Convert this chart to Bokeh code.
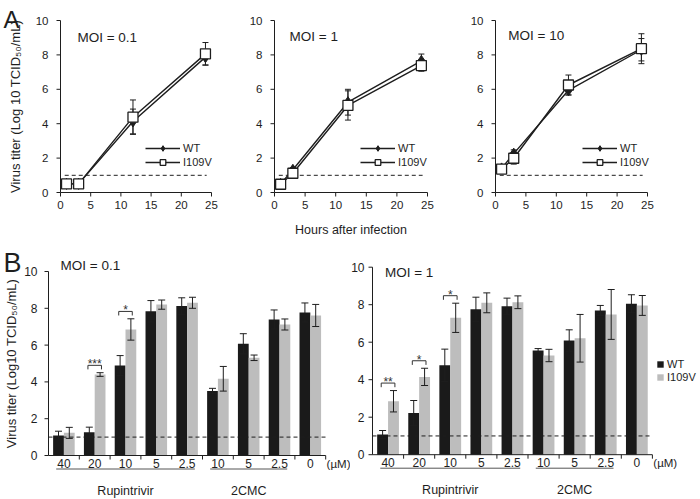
import numpy as np
from bokeh.plotting import figure
from bokeh.models import (Range1d, ColumnDataSource, Whisker, TeeHead, Legend,
                          LegendItem)
from bokeh.layouts import column, row
from bokeh.embed import file_html
from bokeh.resources import INLINE
from bokeh.core.properties import value

FONT = "Liberation Sans"
INK = "#1e1e1e"
WT_COLOR = "#1a1a1a"
IV_COLOR = "#bdbdbd"

# ---------------- data: panel A (growth curves) ----------------
hours = [1, 3, 12, 24]
series_names = ["WT", "I109V"]
a_moi_labels = ["MOI = 0.1", "MOI = 1", "MOI = 10"]
a_wt_01 = [0.5, 0.5, 4.13, 7.87]
a_wt_01_err = [0.05, 0.05, 0.72, 0.45]
a_iv_01 = [0.5, 0.5, 4.38, 8.06]
a_iv_01_err = [0.05, 0.05, 1.0, 0.66]
a_wt_1 = [0.5, 1.32, 5.25, 7.65]
a_wt_1_err = [0.05, 0.12, 0.75, 0.4]
a_iv_1 = [0.48, 1.12, 5.06, 7.38]
a_iv_1_err = [0.05, 0.1, 0.85, 0.33]
a_wt_10 = [1.4, 2.26, 5.94, 8.3]
a_wt_10_err = [0.2, 0.22, 0.27, 0.65]
a_iv_10 = [1.36, 1.99, 6.25, 8.36]
a_iv_10_err = [0.22, 0.34, 0.58, 0.87]
a_xticks = [0, 5, 10, 15, 20, 25]
a_yticks = [0, 2, 4, 6, 8, 10]
a_xlabel = "Hours after infection"
detection_limit = 1.0

# ---------------- data: panel B (drug sensitivity) ----------------
b_concentrations = ["40", "20", "10", "5", "2.5", "10", "5", "2.5", "0"]
b_unit = "(µM)"
b_groups = ["Rupintrivir", "2CMC"]
b_group_first = [0, 5]
b_group_last = [4, 7]
b_moi_labels = ["MOI = 0.1", "MOI = 1"]
b_wt_01 = [1.09, 1.27, 4.89, 7.84, 8.12, 3.5, 6.07, 7.39, 7.77]
b_wt_01_err = [0.23, 0.27, 0.54, 0.58, 0.45, 0.15, 0.55, 0.52, 0.52]
b_iv_01 = [1.23, 4.40, 6.85, 8.2, 8.3, 4.17, 5.31, 7.12, 7.61]
b_iv_01_err = [0.3, 0.1, 0.58, 0.25, 0.3, 0.67, 0.15, 0.3, 0.6]
b_wt_1 = [1.08, 2.23, 4.77, 7.76, 7.92, 5.56, 6.09, 7.69, 8.05]
b_wt_1_err = [0.21, 0.66, 0.86, 0.64, 0.43, 0.1, 0.57, 0.27, 0.48]
b_iv_1 = [2.85, 4.15, 7.3, 8.1, 8.13, 5.29, 6.21, 7.48, 7.96]
b_iv_1_err = [0.57, 0.46, 0.78, 0.53, 0.34, 0.33, 1.27, 1.33, 0.53]
b_sig_01_idx = [1, 2]
b_sig_01_txt = ["***", "*"]
b_sig_1_idx = [0, 1, 2]
b_sig_1_txt = ["**", "*", "*"]
b_yticks = [0, 2, 4, 6, 8, 10]

YLABEL_A = "Virus titer (Log 10 TCID\u2085\u2080/mL)"
YLABEL_B = "Virus titer (Log10 TCID\u2085\u2080/mL)"


def bare_figure(w, h, xr, yr):
    p = figure(frame_width=w, frame_height=h,
               min_border_left=0, min_border_right=0,
               min_border_top=0, min_border_bottom=0,
               x_range=Range1d(*xr), y_range=Range1d(*yr),
               x_axis_location=None, y_axis_location=None,
               output_backend="svg", toolbar_location=None)
    p.outline_line_color = None
    p.grid.visible = False
    return p


def err_source(x, v, e):
    return ColumnDataSource(dict(
        x=list(x), y=list(v),
        upper=[a + b for a, b in zip(v, e)],
        lower=[a - b for a, b in zip(v, e)]))


def whisker(src, level, cap):
    return Whisker(source=src, base="x", upper="upper", lower="lower",
                   level=level, line_color=INK, line_width=1,
                   upper_head=TeeHead(size=cap, line_color=INK, line_width=1),
                   lower_head=TeeHead(size=cap, line_color=INK, line_width=1))


def manual_yaxis(p, ticks, ppu_x, tick_px, gap_px, font):
    """y axis drawn at x = 0 with the figure's own scales."""
    t = np.array(ticks, dtype=float)
    p.segment(x0=[0], y0=[t.min()], x1=[0], y1=[t.max()],
              line_color=INK, line_width=1)
    p.segment(x0=np.zeros(len(t)), y0=t, x1=np.full(len(t), -tick_px / ppu_x),
              y1=t, line_color=INK, line_width=1)
    p.text(x=np.full(len(t), -(tick_px + gap_px) / ppu_x), y=t,
           text=[f"{v:g}" for v in ticks], text_font=value(FONT),
           text_font_size=font, text_align="right", text_baseline="middle",
           text_color=INK)


def manual_xaxis(p, ticks, ppu_y, tick_px, label_px, font):
    """x axis drawn at y = 0 with the figure's own scales."""
    t = np.array(ticks, dtype=float)
    p.segment(x0=[t.min()], y0=[0], x1=[t.max()], y1=[0],
              line_color=INK, line_width=1)
    p.segment(x0=t, y0=np.zeros(len(t)), x1=t,
              y1=np.full(len(t), -tick_px / ppu_y), line_color=INK, line_width=1)
    p.text(x=t, y=np.full(len(t), -label_px / ppu_y),
           text=[f"{v:g}" for v in ticks], text_font=value(FONT),
           text_font_size=font, text_align="center", text_baseline="middle",
           text_color=INK)


A_PPU_Y = 17.2
A_ZERO = 192      # page y of value 0 in row A
A_H = 240         # canvas height of row A (page y 0..240)


def panel_a(wt, wt_e, iv, iv_e, moi, canvas_w, axis_px, ppu_x, moi_xy, leg_xy,
            xlabel=None, letter=None, ylabel=None):
    xr = (-axis_px / ppu_x, (canvas_w - axis_px) / ppu_x)
    yr = (-(A_H - A_ZERO) / A_PPU_Y, A_ZERO / A_PPU_Y)
    p = bare_figure(canvas_w, A_H, xr, yr)
    manual_yaxis(p, a_yticks, ppu_x, 4, 8, "11.5px")
    manual_xaxis(p, a_xticks, A_PPU_Y, 4, 12, "11.5px")
    if xlabel:
        p.text(x=[12.5], y=[-37 / A_PPU_Y], text=[xlabel],
               text_font=value(FONT), text_font_size="12.5px",
               text_align="center", text_baseline="middle", text_color=INK)
    if ylabel:
        p.text(x=[-45 / ppu_x], y=[5.0], text=[ylabel],
               angle=np.pi / 2, text_font=value(FONT), text_font_size="13px",
               text_align="center", text_baseline="middle", text_color=INK)
    if letter:
        p.text(x=[-57 / ppu_x], y=[(A_ZERO - 19) / A_PPU_Y], text=[letter],
               text_font=value(FONT), text_font_size="24px", text_align="left",
               text_baseline="alphabetic", text_color=INK)

    p.segment(x0=[0.7], y0=[detection_limit], x1=[24.2], y1=[detection_limit],
              line_color=INK, line_width=1, line_dash="4 3")
    s_wt = err_source(hours, wt, wt_e)
    s_iv = err_source(hours, iv, iv_e)
    p.add_layout(whisker(s_wt, "underlay", 6))
    p.add_layout(whisker(s_iv, "underlay", 6))
    l_wt = p.line("x", "y", source=s_wt, line_color=INK, line_width=1.4)
    l_iv = p.line("x", "y", source=s_iv, line_color=INK, line_width=1.4)
    m_wt = p.scatter("x", "y", source=s_wt, marker="diamond", size=11,
                     fill_color=INK, line_color=INK)
    m_iv = p.scatter("x", "y", source=s_iv, marker="square", size=10,
                     fill_color="white", line_color=INK, line_width=1.3)
    p.text(x=[moi_xy[0]], y=[moi_xy[1]], text=[moi], text_font=value(FONT),
           text_font_size="13.5px", text_align="left", text_baseline="middle",
           text_color=INK)
    # legend position is relative to the frame = canvas (bottom-left origin)
    leg = Legend(items=[LegendItem(label=series_names[0], renderers=[l_wt, m_wt]),
                        LegendItem(label=series_names[1], renderers=[l_iv, m_iv])],
                 location=(axis_px + leg_xy[0], (A_H - A_ZERO) + leg_xy[1]),
                 padding=0, margin=0, spacing=0,
                 glyph_width=35, glyph_height=14, label_height=14,
                 label_standoff=3, background_fill_alpha=0,
                 border_line_color=None, label_text_font=FONT,
                 label_text_font_size="11px", label_text_color=INK)
    p.add_layout(leg)
    return p


def panel_b(wt, wt_e, iv, iv_e, sig_idx, sig_txt, moi, width, axis_px,
            ppu_x, zero_px, ppu_y, moi_xy, tick_gap, legend_xy=None,
            letter=None, ylabel=None):
    height = 258          # canvas spans page y 240..498
    top_page = 240
    y_lo = -(top_page + height - zero_px) / ppu_y
    y_hi = (zero_px - top_page) / ppu_y
    p = bare_figure(width, height,
                    (-axis_px / ppu_x, (width - axis_px) / ppu_x), (y_lo, y_hi))

    n = len(b_concentrations)
    centers = np.arange(n) + 0.5
    bw = 0.35
    r_wt = p.vbar(x=centers - bw / 2, top=wt, width=bw, bottom=0,
                  fill_color=WT_COLOR, line_color=None)
    r_iv = p.vbar(x=centers + bw / 2, top=iv, width=bw, bottom=0,
                  fill_color=IV_COLOR, line_color=None)
    p.add_layout(whisker(err_source(centers - bw / 2, wt, wt_e), "annotation", 7))
    p.add_layout(whisker(err_source(centers + bw / 2, iv, iv_e), "annotation", 7))

    manual_yaxis(p, b_yticks, ppu_x, 4, tick_gap, "12px")

    # x baseline with ticks at category boundaries, dashed detection limit
    p.segment(x0=[0], y0=[0], x1=[n], y1=[0], line_color=INK, line_width=1)
    bnd = np.arange(1, n + 1)
    p.segment(x0=bnd, y0=np.zeros(n), x1=bnd, y1=np.full(n, -4 / ppu_y),
              line_color=INK, line_width=1)
    p.segment(x0=[0], y0=[detection_limit], x1=[n], y1=[detection_limit],
              line_color=INK, line_width=1, line_dash="4 3")

    lab_y = -8 / ppu_y
    p.text(x=centers, y=np.full(n, lab_y), text=b_concentrations,
           text_font=value(FONT), text_font_size="12px", text_align="center",
           text_baseline="middle", text_color=INK)
    p.text(x=[n + 0.03], y=[lab_y], text=[b_unit], text_font=value(FONT),
           text_font_size="11.5px", text_align="left", text_baseline="middle",
           text_color=INK)
    gx0 = [f + 0.25 for f in b_group_first]
    gx1 = [l + 0.75 for l in b_group_last]
    p.segment(x0=gx0, y0=[-13.5 / ppu_y] * 2, x1=gx1, y1=[-13.5 / ppu_y] * 2,
              line_color="#555555", line_width=1)
    p.text(x=[(a + b) / 2 for a, b in zip(gx0, gx1)], y=[-35 / ppu_y] * 2,
           text=b_groups, text_font=value(FONT), text_font_size="12.5px",
           text_align="center", text_baseline="middle", text_color=INK)

    # significance brackets
    xs, ys, tx, ty = [], [], [], []
    for i in sig_idx:
        c = centers[i]
        yb = max(wt[i] + wt_e[i], iv[i] + iv_e[i]) + 0.4
        xs.append([c - 0.22, c - 0.22, c + 0.22, c + 0.22])
        ys.append([yb - 0.22, yb, yb, yb - 0.22])
        tx.append(c)
        ty.append(yb + 0.06)
    p.multi_line(xs=xs, ys=ys, line_color="#333333", line_width=1)
    p.text(x=tx, y=ty, text=sig_txt, text_font=value(FONT),
           text_font_size="12px", text_align="center",
           text_baseline="alphabetic", text_color="#333333")

    p.text(x=[moi_xy[0]], y=[moi_xy[1]], text=[moi], text_font=value(FONT),
           text_font_size="13.5px", text_align="left", text_baseline="middle",
           text_color=INK)

    if legend_xy:
        leg = Legend(items=[LegendItem(label=series_names[0], renderers=[r_wt]),
                            LegendItem(label=series_names[1], renderers=[r_iv])],
                     location=legend_xy, padding=0, margin=0, spacing=1,
                     glyph_width=8, glyph_height=8, label_height=8,
                     label_standoff=3, background_fill_alpha=0,
                     border_line_color=None, label_text_font=FONT,
                     label_text_font_size="11px", label_text_color=INK)
        p.add_layout(leg)
    if letter:
        p.text(x=[-45 / ppu_x], y=[(zero_px - 262) / ppu_y], text=[letter],
               text_font=value(FONT), text_font_size="27px", text_align="left",
               text_baseline="alphabetic", text_color=INK)
    if ylabel:
        p.text(x=[-37 / ppu_x], y=[5.0], text=[ylabel], angle=np.pi / 2,
               text_font=value(FONT), text_font_size="13px",
               text_align="center", text_baseline="middle", text_color=INK)
    return p


a1 = panel_a(a_wt_01, a_wt_01_err, a_iv_01, a_iv_01_err, a_moi_labels[0],
             232, 60, 151 / 25, (2.8, 9.0), (85, 23),
             letter="A", ylabel=YLABEL_A)
a2 = panel_a(a_wt_1, a_wt_1_err, a_iv_1, a_iv_1_err, a_moi_labels[1],
             228, 42, 153 / 25, (2.45, 9.07), (86, 23), xlabel=a_xlabel)
a3 = panel_a(a_wt_10, a_wt_10_err, a_iv_10, a_iv_10_err, a_moi_labels[2],
             240, 35, 152 / 25, (2.1, 9.1), (87, 23))

b1 = panel_b(b_wt_01, b_wt_01_err, b_iv_01, b_iv_01_err, b_sig_01_idx,
             b_sig_01_txt, b_moi_labels[0], 350, 48, 30.8, 455, 18.4,
             (0.39, 10.33), 7, letter="B", ylabel=YLABEL_B)
b2 = panel_b(b_wt_1, b_wt_1_err, b_iv_1, b_iv_1_err, b_sig_1_idx,
             b_sig_1_txt, b_moi_labels[1], 350, 22, 31.1, 454.2, 18.75,
             (0.4, 9.72), 4, legend_xy=(306, 115))

layout = column(row(a1, a2, a3), row(b1, b2))

with open("out.html", "w") as f:
    f.write(file_html(layout, INLINE))
